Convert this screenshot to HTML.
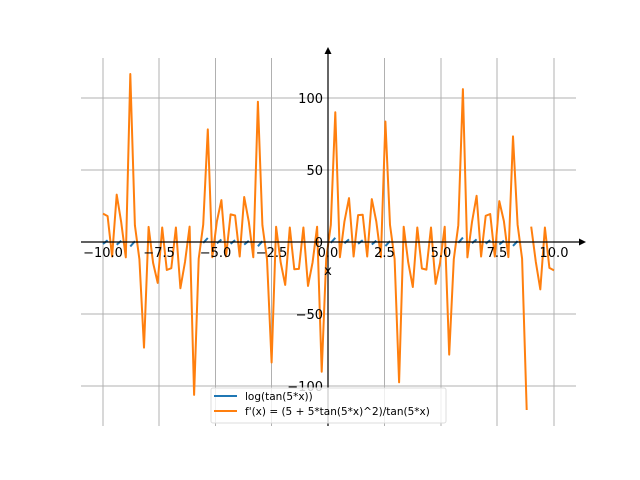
<!DOCTYPE html>
<html><head><meta charset="utf-8"><style>body{margin:0;background:#fff}svg{display:block}text{font-family:"DejaVu Sans","Liberation Sans",sans-serif}</style></head>
<body>
<svg id="s" width="640" height="480" viewBox="0 0 640 480" xmlns="http://www.w3.org/2000/svg">
<g stroke="#b0b0b0" stroke-width="1">
<line x1="103" y1="58" x2="103" y2="426"/><line x1="159" y1="58" x2="159" y2="426"/><line x1="215.5" y1="58" x2="215.5" y2="426"/><line x1="271.5" y1="58" x2="271.5" y2="426"/><line x1="384.5" y1="58" x2="384.5" y2="426"/><line x1="441" y1="58" x2="441" y2="426"/><line x1="497" y1="58" x2="497" y2="426"/><line x1="554" y1="58" x2="554" y2="426"/>
<line x1="81" y1="98" x2="576" y2="98"/><line x1="81" y1="170" x2="576" y2="170"/><line x1="81" y1="314" x2="576" y2="314"/><line x1="81" y1="386" x2="576" y2="386"/>
</g>
<g id="curves"></g>
<g stroke="#000" stroke-width="1.2">
<line x1="81" y1="242" x2="580" y2="242"/><line x1="328" y1="52" x2="328" y2="426"/>
</g>
<polygon points="586,242 579,238.5 579,245.5" fill="#000"/>
<polygon points="328,47 324.5,54 331.5,54" fill="#000"/>
<g font-size="13" fill="#000" text-anchor="middle">
<text x="103" y="257">−10.0</text><text x="159" y="257">−7.5</text><text x="215.5" y="257">−5.0</text><text x="271.5" y="257">−2.5</text><text x="328" y="257">0.0</text><text x="384.5" y="257">2.5</text><text x="441" y="257">5.0</text><text x="497" y="257">7.5</text><text x="554" y="257">10.0</text>
<text x="328" y="275">x</text>
</g>
<g font-size="13" fill="#000" text-anchor="end">
<text x="323" y="103">100</text><text x="323" y="175">50</text><text x="323" y="247">0</text><text x="323" y="319">−50</text><text x="323" y="391">−100</text>
</g>
<rect x="211" y="388" width="235" height="35" rx="2" fill="#fff" fill-opacity="0.8" stroke="#ddd"/>
<line x1="214" y1="396" x2="237" y2="396" stroke="#1f77b4" stroke-width="2"/>
<line x1="214" y1="411" x2="237" y2="411" stroke="#ff7f0e" stroke-width="2"/>
<g font-size="10.5" fill="#000"><text x="245" y="400">log(tan(5*x))</text><text x="245" y="415">f'(x) = (5 + 5*tan(5*x)^2)/tan(5*x)</text></g>
</svg>
<script>
var px=function(x){return 328.5+x*22.55},py=function(y){return 242-y*1.44};
var N=100,o=[],segB=[],cur=[];
for(var i=0;i<N;i++){var x=-10+20*i/(N-1);var y=10/Math.sin(10*x);
 o.push((i==0||i==94)?'M':'L');o[o.length-1]+=px(x).toFixed(1)+','+py(y).toFixed(1);
 var t=Math.tan(5*x);
 if(t>0){cur.push(px(x).toFixed(1)+','+py(Math.log(t)).toFixed(1));}else{if(cur.length>1)segB.push('M'+cur.join('L'));cur=[];}
}
if(cur.length>1)segB.push('M'+cur.join('L'));
document.getElementById('curves').innerHTML='<path d="'+segB.join('')+'" fill="none" stroke="#1f77b4" stroke-width="2"/><path d="'+o.join('')+'" fill="none" stroke="#ff7f0e" stroke-width="2" stroke-linejoin="round"/>';
</script>
</body></html>
